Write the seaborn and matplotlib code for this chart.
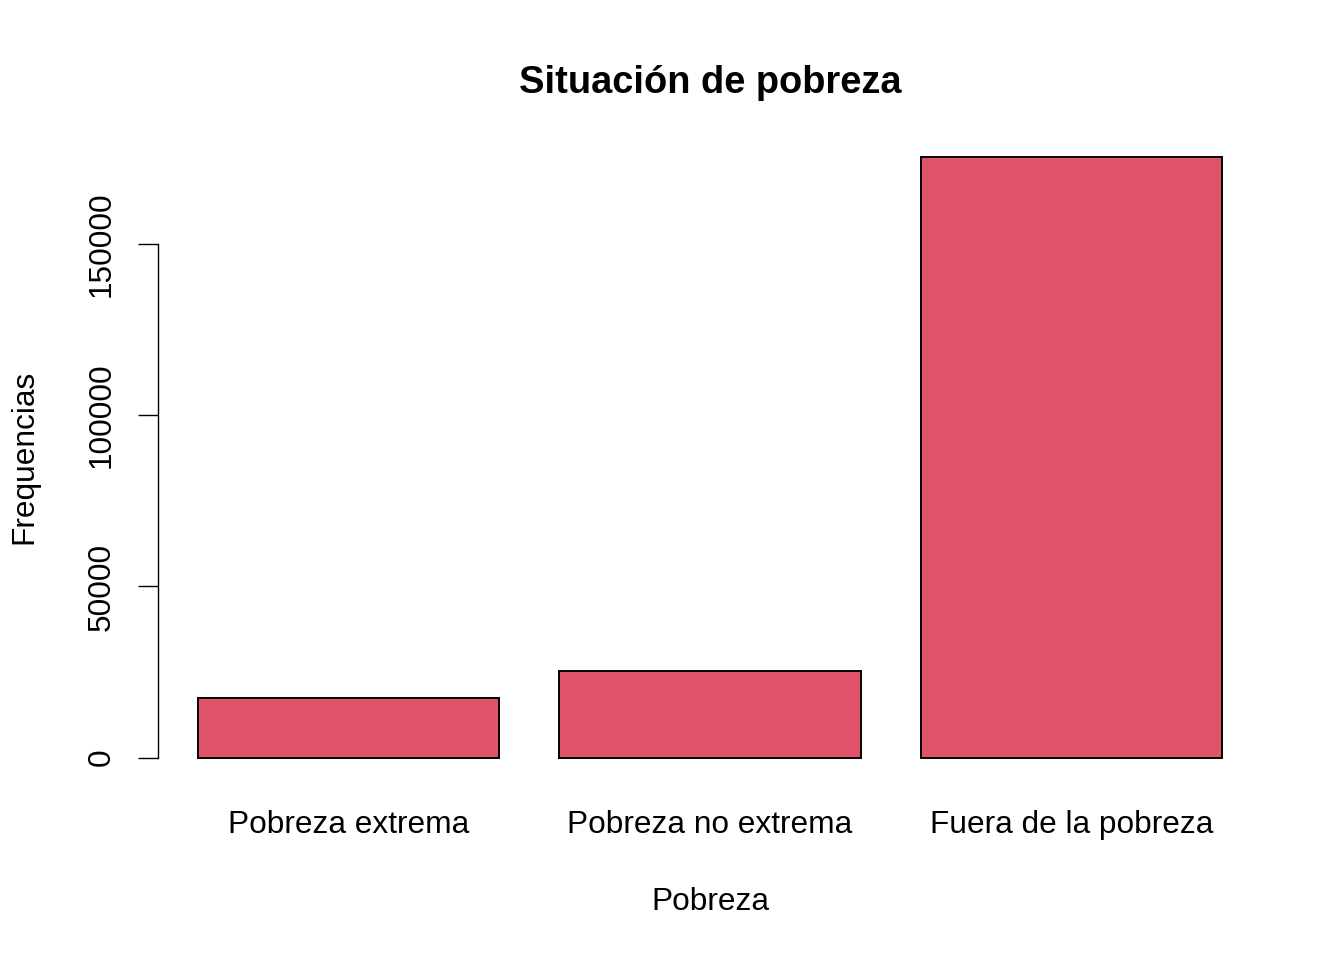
import matplotlib
matplotlib.use("Agg")
import matplotlib.pyplot as plt
import seaborn as sns

categorias = ["Pobreza extrema", "Pobreza no extrema", "Fuera de la pobreza"]
frecuencias = [17350, 25300, 175500]
yticks = [0, 50000, 100000, 150000]

sns.set_style("white")
plt.rcParams["font.family"] = ["Liberation Sans", "DejaVu Sans"]
plt.rcParams["text.color"] = "black"
plt.rcParams["axes.labelcolor"] = "black"
plt.rcParams["xtick.color"] = "black"
plt.rcParams["ytick.color"] = "black"

W, H = 1344, 960
fig = plt.figure(figsize=(W / 100, H / 100), dpi=100)
left, right, top, bottom = 186, 1234, 132.7, 781.7
ax = fig.add_axes([left / W, 1 - bottom / H, (right - left) / W, (bottom - top) / H])

sns.barplot(x=categorias, y=frecuencias, color="#DF536B", saturation=1,
            edgecolor="black", linewidth=1.4, width=1 / 1.2, ax=ax)

ymax = max(frecuencias)
ax.set_ylim(-0.04 * ymax, 1.04 * ymax)
ax.set_xlim(-0.45, 2.45)

for s in ["top", "right", "bottom"]:
    ax.spines[s].set_visible(False)
ax.spines["left"].set_position(("outward", 20.4))
ax.spines["left"].set_bounds(0, 150000)
ax.spines["left"].set_linewidth(1.0)
ax.spines["left"].set_color("black")

ax.set_yticks(yticks)
ax.set_yticklabels([str(v) for v in yticks])
ax.tick_params(axis="y", direction="out", length=14.4, width=1.0, colors="black",
               labelsize=22.8, pad=15, labelrotation=90, left=True)
for lab in ax.get_yticklabels():
    lab.set_va("center")
ax.tick_params(axis="x", length=0, labelsize=22.8, pad=20.3, colors="black")

ax.set_xlabel("Pobreza", fontsize=22.8, color="black")
ax.set_ylabel("Frequencias", fontsize=22.8, color="black")
ax.xaxis.set_label_coords(0.5, (bottom - 902) / (bottom - top))
ax.xaxis.label.set_va("center")
ax.yaxis.set_label_coords((24 - left) / (right - left), 0.5)
ax.yaxis.label.set_va("center")

t = ax.set_title("Situación de pobreza", fontsize=27.4, fontweight="bold",
                 color="black", y=(bottom - 91) / (bottom - top))
t.set_va("center")

fig.savefig("out.png", dpi=100)
